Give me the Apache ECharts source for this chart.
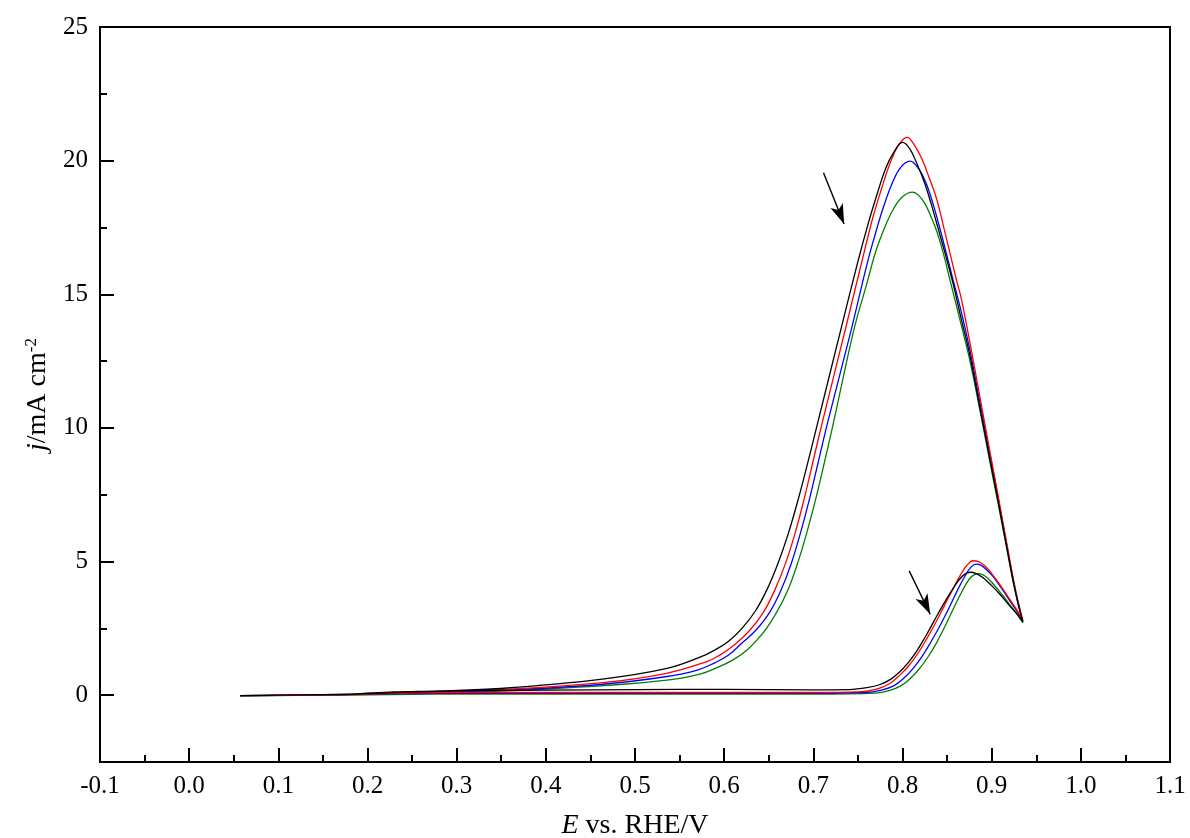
<!DOCTYPE html>
<html>
<head>
<meta charset="utf-8">
<script src="https://cdn.jsdelivr.net/npm/echarts@6/dist/echarts.min.js"></script>
<style>
  html, body { margin: 0; padding: 0; background: #fff; }
  #chart { width: 1190px; height: 838px; }
</style>
</head>
<body>
<div id="chart"></div>
<script>
// tick values
var yTicks = [0, 5, 10, 15, 20, 25];
var yMinorTicks = [-2.5, 2.5, 7.5, 12.5, 17.5, 22.5];

// each CV loop: forward scan (lower) then reverse scan (upper), [E, j]
var blackCurve = [
  [0.057,-0.02],[0.1,0.0],[0.15,0.02],[0.2,0.06],[0.25,0.12],[0.3,0.16],[0.4,0.19],[0.5,0.21],
  [0.6,0.22],[0.7,0.2],[0.74,0.21],[0.76,0.28],[0.775,0.4],[0.787,0.6],[0.797,0.88],[0.806,1.2],
  [0.815,1.6],[0.825,2.15],[0.835,2.75],[0.845,3.35],[0.855,3.9],[0.863,4.3],[0.87,4.53],[0.876,4.6],
  [0.882,4.56],[0.89,4.4],[0.9,4.1],[0.91,3.75],[0.92,3.35],[0.928,3.05],[0.935,2.75],
  [0.93,3.4],[0.924,4.3],[0.916,5.7],[0.907,7.3],[0.897,9.0],[0.886,10.9],[0.875,12.8],[0.865,14.2],
  [0.856,15.5],[0.848,16.5],[0.8405,17.4],[0.832,18.4],[0.8244,19.2],[0.816,19.9],[0.808,20.45],
  [0.8,20.68],[0.79,20.3],[0.781,19.7],[0.772,18.8],[0.762,17.7],[0.7495,16.16],[0.7307,13.66],
  [0.7046,10.15],[0.693,8.6],[0.682,7.2],[0.671,5.95],[0.66,4.9],[0.648,3.95],[0.635,3.15],
  [0.62,2.5],[0.605,2.02],[0.59,1.7],[0.5736,1.43],[0.536,1.0],[0.461,0.59],[0.349,0.25],
  [0.28,0.16],[0.23,0.12],[0.18,0.04],[0.12,0.01],[0.057,-0.02]
];
var redCurve = [
  [0.057,-0.02],[0.1,0.0],[0.15,0.01],[0.2,0.04],[0.25,0.08],[0.3,0.1],[0.4,0.1],[0.5,0.1],
  [0.6,0.1],[0.7,0.1],[0.75,0.12],[0.77,0.22],[0.785,0.42],[0.797,0.75],[0.807,1.1],[0.817,1.55],
  [0.827,2.1],[0.837,2.7],[0.847,3.35],[0.857,4.0],[0.865,4.5],[0.872,4.85],[0.879,5.03],[0.885,5.0],
  [0.892,4.85],[0.9,4.55],[0.91,4.1],[0.92,3.6],[0.928,3.2],[0.935,2.8],
  [0.93,3.45],[0.924,4.4],[0.916,5.85],[0.907,7.5],[0.897,9.3],[0.886,11.3],[0.875,13.3],[0.8655,14.9],
  [0.86,15.6],[0.847,17.4],[0.838,18.6],[0.83,19.35],[0.822,20.05],[0.813,20.6],[0.805,20.87],
  [0.795,20.55],[0.786,19.9],[0.777,19.0],[0.767,17.9],[0.755,16.3],[0.736,13.7],[0.71,10.2],
  [0.699,8.65],[0.689,7.25],[0.679,6.0],[0.669,4.95],[0.657,3.95],[0.644,3.1],[0.628,2.4],
  [0.612,1.9],[0.595,1.5],[0.58,1.25],[0.534,0.81],[0.461,0.46],[0.349,0.21],[0.28,0.14],
  [0.23,0.1],[0.18,0.03],[0.12,0.0],[0.057,-0.02]
];
var blueCurve = [
  [0.057,-0.02],[0.1,0.0],[0.15,0.01],[0.2,0.03],[0.25,0.06],[0.3,0.07],[0.4,0.07],[0.5,0.07],
  [0.6,0.07],[0.7,0.07],[0.76,0.1],[0.775,0.18],[0.79,0.35],[0.802,0.65],[0.812,1.0],[0.822,1.45],
  [0.832,2.0],[0.842,2.6],[0.852,3.25],[0.862,3.95],[0.87,4.45],[0.877,4.8],[0.883,4.9],[0.89,4.82],
  [0.9,4.5],[0.91,4.05],[0.92,3.55],[0.928,3.15],[0.935,2.75],
  [0.93,3.4],[0.924,4.35],[0.916,5.8],[0.907,7.4],[0.897,9.2],[0.886,11.1],[0.875,13.0],[0.8655,14.4],
  [0.857,15.5],[0.844,17.2],[0.835,18.3],[0.826,19.2],[0.818,19.7],[0.8086,19.98],[0.798,19.75],
  [0.789,19.2],[0.779,18.3],[0.769,17.2],[0.76,16.1],[0.742,13.6],[0.716,10.2],[0.705,8.65],
  [0.695,7.25],[0.685,6.0],[0.675,4.9],[0.664,3.95],[0.651,3.1],[0.636,2.45],[0.62,1.95],
  [0.605,1.5],[0.59,1.22],[0.57,0.94],[0.534,0.69],[0.461,0.4],[0.349,0.18],[0.28,0.12],
  [0.23,0.08],[0.18,0.02],[0.12,0.0],[0.057,-0.02]
];
var greenCurve = [
  [0.057,-0.03],[0.1,-0.01],[0.15,0.0],[0.2,0.01],[0.25,0.03],[0.3,0.04],[0.4,0.04],[0.5,0.04],
  [0.6,0.04],[0.7,0.04],[0.77,0.08],[0.785,0.17],[0.797,0.33],[0.808,0.6],[0.818,0.95],[0.828,1.4],
  [0.838,1.95],[0.848,2.6],[0.858,3.3],[0.867,3.9],[0.874,4.3],[0.88,4.5],[0.886,4.55],[0.893,4.45],
  [0.902,4.15],[0.912,3.75],[0.92,3.4],[0.928,3.05],[0.935,2.7],
  [0.93,3.35],[0.924,4.25],[0.916,5.65],[0.907,7.2],[0.897,8.9],[0.886,10.8],[0.875,12.6],[0.8655,13.9],
  [0.8535,15.5],[0.846,16.5],[0.839,17.3],[0.832,17.9],[0.825,18.4],[0.818,18.7],[0.8113,18.82],
  [0.8,18.65],[0.79,18.2],[0.78,17.5],[0.77,16.6],[0.76,15.4],[0.7454,13.66],[0.7226,10.2],
  [0.712,8.65],[0.702,7.25],[0.692,6.0],[0.682,4.9],[0.671,3.9],[0.658,3.05],[0.643,2.3],
  [0.626,1.7],[0.61,1.32],[0.59,1.0],[0.574,0.8],[0.536,0.56],[0.461,0.35],[0.349,0.15],
  [0.28,0.08],[0.23,0.04],[0.18,0.01],[0.12,-0.01],[0.057,-0.03]
];
// arrows [from, to] in data units
var arrowUpper = [[0.7114, 19.55], [0.7345, 17.63]];
var arrowLower = [[0.8075, 4.65], [0.8311, 3.03]];

var seriesList = [
  { name: 'green', data: greenCurve, color: '#008000' },
  { name: 'blue', data: blueCurve, color: '#0000ff' },
  { name: 'red', data: redCurve, color: '#ff0000' },
  { name: 'black', data: blackCurve, color: '#000000' }
];

var chart = echarts.init(document.getElementById('chart'));
var font = 'Liberation Serif';

var series = seriesList.map(function (s) {
  return {
    name: s.name,
    type: 'line',
    data: s.data,
    smooth: 0.4,
    showSymbol: false,
    lineStyle: { color: s.color, width: 1.3 },
    z: 3
  };
});
// arrows
series.push({
  type: 'line',
  data: [],
  markLine: {
    silent: true,
    symbol: ['none', 'arrow'],
    symbolSize: [10, 20],
    label: { show: false },
    lineStyle: { color: '#000', width: 1.4, type: 'solid' },
    data: [
      [{ coord: arrowUpper[0] }, { coord: arrowUpper[1] }],
      [{ coord: arrowLower[0] }, { coord: arrowLower[1] }]
    ]
  }
});

var option = {
  animation: false,
  backgroundColor: '#fff',
  grid: {
    left: 100, right: 20, top: 27, bottom: 76,
    outerBoundsMode: 'none',
    containLabel: false,
    show: true, borderColor: '#000', borderWidth: 2
  },
  xAxis: {
    type: 'value',
    min: -0.1, max: 1.1, interval: 0.1,
    name: '{i|E} vs. RHE/V',
    nameLocation: 'middle',
    nameGap: 50,
    nameTextStyle: {
      fontFamily: font, fontSize: 28, color: '#000',
      rich: { i: { fontFamily: font, fontSize: 28, fontStyle: 'italic', color: '#000' } }
    },
    axisLine: { show: true, onZero: false, lineStyle: { color: '#000', width: 2 } },
    axisTick: { inside: true, length: 14, lineStyle: { color: '#000', width: 2 } },
    minorTick: { show: true, splitNumber: 2, length: 7, lineStyle: { color: '#000', width: 2 } },
    axisLabel: {
      fontFamily: font, fontSize: 25, color: '#000', margin: 12,
      formatter: function (v) { return v.toFixed(1); }
    },
    splitLine: { show: false }
  },
  yAxis: [{
    type: 'value',
    min: -2.5, max: 25,
    name: '{i|j}/mA cm{sup|-2}',
    nameLocation: 'middle',
    nameGap: 46,
    nameTextStyle: {
      fontFamily: font, fontSize: 28, color: '#000',
      rich: {
        i: { fontFamily: font, fontSize: 28, fontStyle: 'italic', color: '#000' },
        sup: { fontFamily: font, fontSize: 17, color: '#000', verticalAlign: 'bottom', padding: [0, 0, 14, 0] }
      }
    },
    axisLine: { show: true, onZero: false, lineStyle: { color: '#000', width: 2 } },
    axisTick: { inside: true, length: 14, customValues: yTicks, lineStyle: { color: '#000', width: 2 } },
    axisLabel: {
      fontFamily: font, fontSize: 25, color: '#000', margin: 12,
      customValues: yTicks
    },
    splitLine: { show: false }
  }, {
    type: 'value',
    position: 'left',
    min: -2.5, max: 25,
    axisLine: { show: false, onZero: false },
    axisTick: { inside: true, length: 7, customValues: yMinorTicks, lineStyle: { color: '#000', width: 2 } },
    axisLabel: { show: false },
    splitLine: { show: false }
  }],
  series: series
};
chart.setOption(option);
</script>
</body>
</html>
